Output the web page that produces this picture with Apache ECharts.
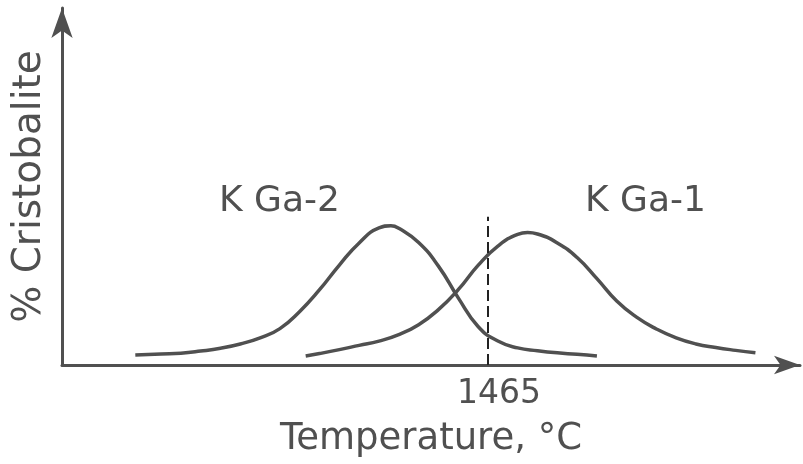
<!DOCTYPE html>
<html>
<head>
<meta charset="utf-8">
<script src="https://cdn.jsdelivr.net/npm/echarts@6/dist/echarts.min.js"></script>
<style>html,body{margin:0;padding:0;background:#fff}#c{width:803px;height:464px}</style>
</head>
<body>
<div id="c"></div>
<script>
// Temperature (°C, schematic) and % Cristobalite (relative, schematic)
var kga2Temp = [1287, 1300, 1310, 1320, 1330, 1340, 1350, 1360, 1370, 1380, 1390, 1400, 1410, 1416, 1420, 1430, 1440, 1450, 1460, 1470, 1480, 1490, 1500, 1510, 1520];
var kga2Pct  = [2.8, 3.1, 3.3, 3.9, 4.7, 5.9, 7.6, 10.2, 15.0, 21.1, 28.0, 34.2, 38.4, 39.0, 38.3, 34.3, 27.7, 18.8, 10.8, 6.7, 4.8, 4.0, 3.4, 3.0, 2.5];
var kga1Temp = [1373, 1380, 1390, 1400, 1410, 1420, 1430, 1440, 1450, 1460, 1470, 1480, 1485, 1490, 1500, 1510, 1520, 1530, 1540, 1550, 1560, 1570, 1580, 1590, 1600];
var kga1Pct  = [2.5, 3.2, 4.3, 5.5, 6.7, 8.5, 11.3, 15.5, 21.1, 27.9, 33.3, 36.6, 37.1, 36.7, 34.2, 30.1, 24.2, 17.9, 13.4, 10.1, 7.6, 5.9, 4.9, 4.1, 3.4];
var markedTemp = 1465;
var markedTop = 41.5;
var seriesNames = ['K Ga-2', 'K Ga-1'];
var xTitle = 'Temperature, °C';
var yTitle = '% Cristobalite';

function pairs(xs, ys) { return xs.map(function (x, i) { return [x, ys[i]]; }); }

var ink = '#505050';
var font = 'DejaVu Sans';
var chart = echarts.init(document.getElementById('c'), null, {renderer: 'canvas'});
chart.setOption({
  backgroundColor: '#fff',
  animation: false,
  grid: {left: 62, right: 3, top: 8, bottom: 99, containLabel: false},
  xAxis: {
    type: 'value', min: 1250, max: 1622.5, interval: 5,
    splitLine: {show: false},
    axisTick: {show: false},
    axisLine: {lineStyle: {color: ink, width: 3}, symbol: ['none', 'arrow'], symbolSize: [14, 26]},
    axisLabel: {
      color: ink, fontFamily: font, fontSize: 33, margin: 13, padding: [0, 0, 0, 22],
      formatter: function (v) { return v === markedTemp ? String(markedTemp) : ''; }
    },
    name: xTitle, nameLocation: 'middle', nameGap: 56,
    nameTextStyle: {color: ink, fontFamily: font, fontSize: 37}
  },
  yAxis: {
    type: 'value', min: 0, max: 100,
    splitLine: {show: false},
    axisTick: {show: false},
    axisLabel: {show: false},
    axisLine: {lineStyle: {color: ink, width: 3}, symbol: ['none', 'arrow'], symbolSize: [16, 30]},
    name: yTitle, nameLocation: 'middle', nameGap: 13, nameRotate: 90,
    nameTextStyle: {color: ink, fontFamily: font, fontSize: 39}
  },
  graphic: [
    {type: 'text', left: 219, top: 184, style: {text: seriesNames[0], fill: ink, font: '36px "DejaVu Sans"'}},
    {type: 'text', left: 585, top: 184, style: {text: seriesNames[1], fill: ink, font: '36px "DejaVu Sans"'}}
  ],
  series: [
    {
      name: seriesNames[0], type: 'line', smooth: 0.5, showSymbol: false,
      lineStyle: {color: ink, width: 3.5}, data: pairs(kga2Temp, kga2Pct),
      markLine: {
        silent: true, symbol: 'none', label: {show: false},
        lineStyle: {color: '#222', width: 2, type: [11, 5]},
        data: [[{coord: [markedTemp, 0]}, {coord: [markedTemp, markedTop]}]]
      }
    },
    {
      name: seriesNames[1], type: 'line', smooth: 0.5, showSymbol: false,
      lineStyle: {color: ink, width: 3.5}, data: pairs(kga1Temp, kga1Pct)
    }
  ]
});
</script>
</body>
</html>
